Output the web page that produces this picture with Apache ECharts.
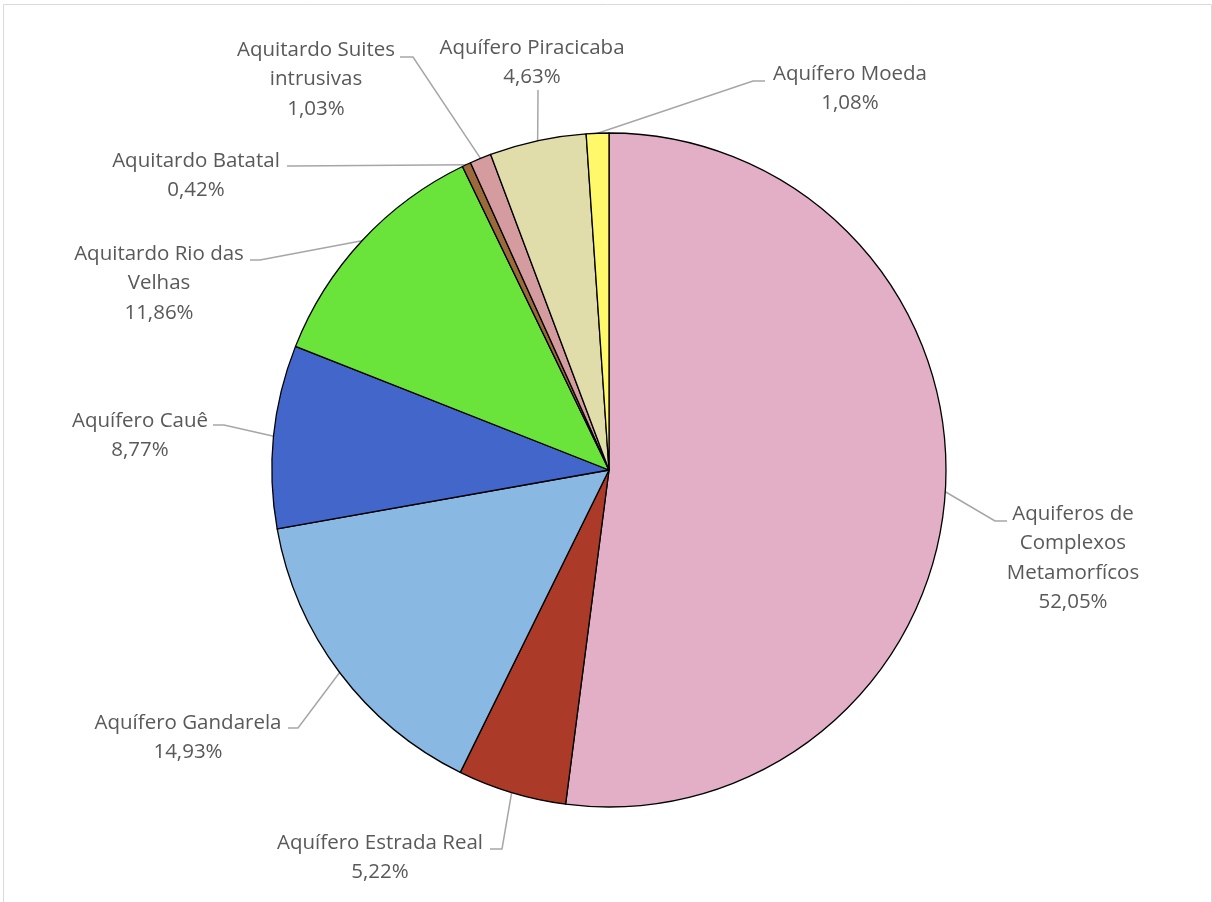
<!DOCTYPE html>
<html>
<head>
<meta charset="utf-8">
<script src="https://cdn.jsdelivr.net/npm/echarts@6/dist/echarts.min.js"></script>
<style>
  html, body { margin: 0; padding: 0; background: #fff; }
  #chart { width: 1212px; height: 902px; }
</style>
</head>
<body>
<div id="chart"></div>
<script>
// Aquifer units and their share of the area (%)
const categories = [
  'Aquiferos de\nComplexos\nMetamorfícos',
  'Aquífero Estrada Real',
  'Aquífero Gandarela',
  'Aquífero Cauê',
  'Aquitardo Rio das\nVelhas',
  'Aquitardo Batatal',
  'Aquitardo Suites\nintrusivas',
  'Aquífero Piracicaba',
  'Aquífero Moeda'
];
const shares = [52.05, 5.22, 14.93, 8.77, 11.86, 0.42, 1.03, 4.63, 1.08];
const colors = ['#E3AFC6', '#AB3B28', '#89B8E3', '#4366CA', '#6AE33B', '#9C6A3A', '#D49C9E', '#E0DDAB', '#FFF86B'];

// Label placement: text block centre x, top y, and leader-line bend / end points
const labelBoxes = [
  { x: 1073, y: 499, bend: [995, 521], end: [1007, 521] },
  { x: 380,  y: 828, bend: [502, 849], end: [490, 849] },
  { x: 188,  y: 708, bend: [298, 728], end: [288, 728] },
  { x: 140,  y: 406, bend: [224, 425], end: [213, 425] },
  { x: 159,  y: 239, bend: [260, 260], end: [250, 260] },
  { x: 196,  y: 146, bend: [292, 166], end: [287, 166] },
  { x: 316,  y: 35,  bend: [413, 57],  end: [400, 57] },
  { x: 532,  y: 33,  bend: [538, 92],  end: [538, 90] },
  { x: 850,  y: 59,  bend: [753, 81],  end: [765, 81] }
];

const CX = 609, CY = 470, R = 337;
const total = shares.reduce((a, b) => a + b, 0);

// point on the rim at the middle of slice i
function rimPoint(i) {
  let before = 0;
  for (let k = 0; k < i; k++) before += shares[k];
  const frac = (before + shares[i] / 2) / total;
  const ang = frac * 2 * Math.PI;
  return [CX + R * Math.sin(ang), CY - R * Math.cos(ang)];
}

const fmt = v => v.toFixed(2).replace('.', ',') + '%';

const chart = echarts.init(document.getElementById('chart'), null, { renderer: 'canvas' });
chart.setOption({
  animation: false,
  backgroundColor: '#fff',
  graphic: [{
    type: 'rect',
    shape: { x: 3.5, y: 4.5, width: 1208, height: 920 },
    style: { fill: 'none', stroke: '#D9D9D9', lineWidth: 1 },
    silent: true
  }],
  series: [{
    type: 'pie',
    center: [CX, CY],
    radius: R,
    startAngle: 90,
    clockwise: true,
    avoidLabelOverlap: false,
    emphasis: { disabled: true },
    data: categories.map((name, i) => ({
      name: name,
      value: shares[i],
      itemStyle: { color: colors[i] }
    })),
    itemStyle: { borderColor: '#000', borderWidth: 1.3 },
    label: {
      show: true,
      position: 'outside',
      formatter: p => p.name + '\n' + fmt(p.value),
      fontFamily: 'Open Sans',
      fontSize: 20.5,
      lineHeight: 29.5,
      color: '#595959',
      align: 'center'
    },
    labelLine: {
      show: true,
      lineStyle: { color: '#A6A6A6', width: 1.5 }
    },
    labelLayout: function (params) {
      const i = params.dataIndex;
      const b = labelBoxes[i];
      return {
        x: b.x,
        y: b.y,
        align: 'center',
        verticalAlign: 'top',
        labelLinePoints: [rimPoint(i), b.bend, b.end]
      };
    }
  }]
});
</script>
</body>
</html>
